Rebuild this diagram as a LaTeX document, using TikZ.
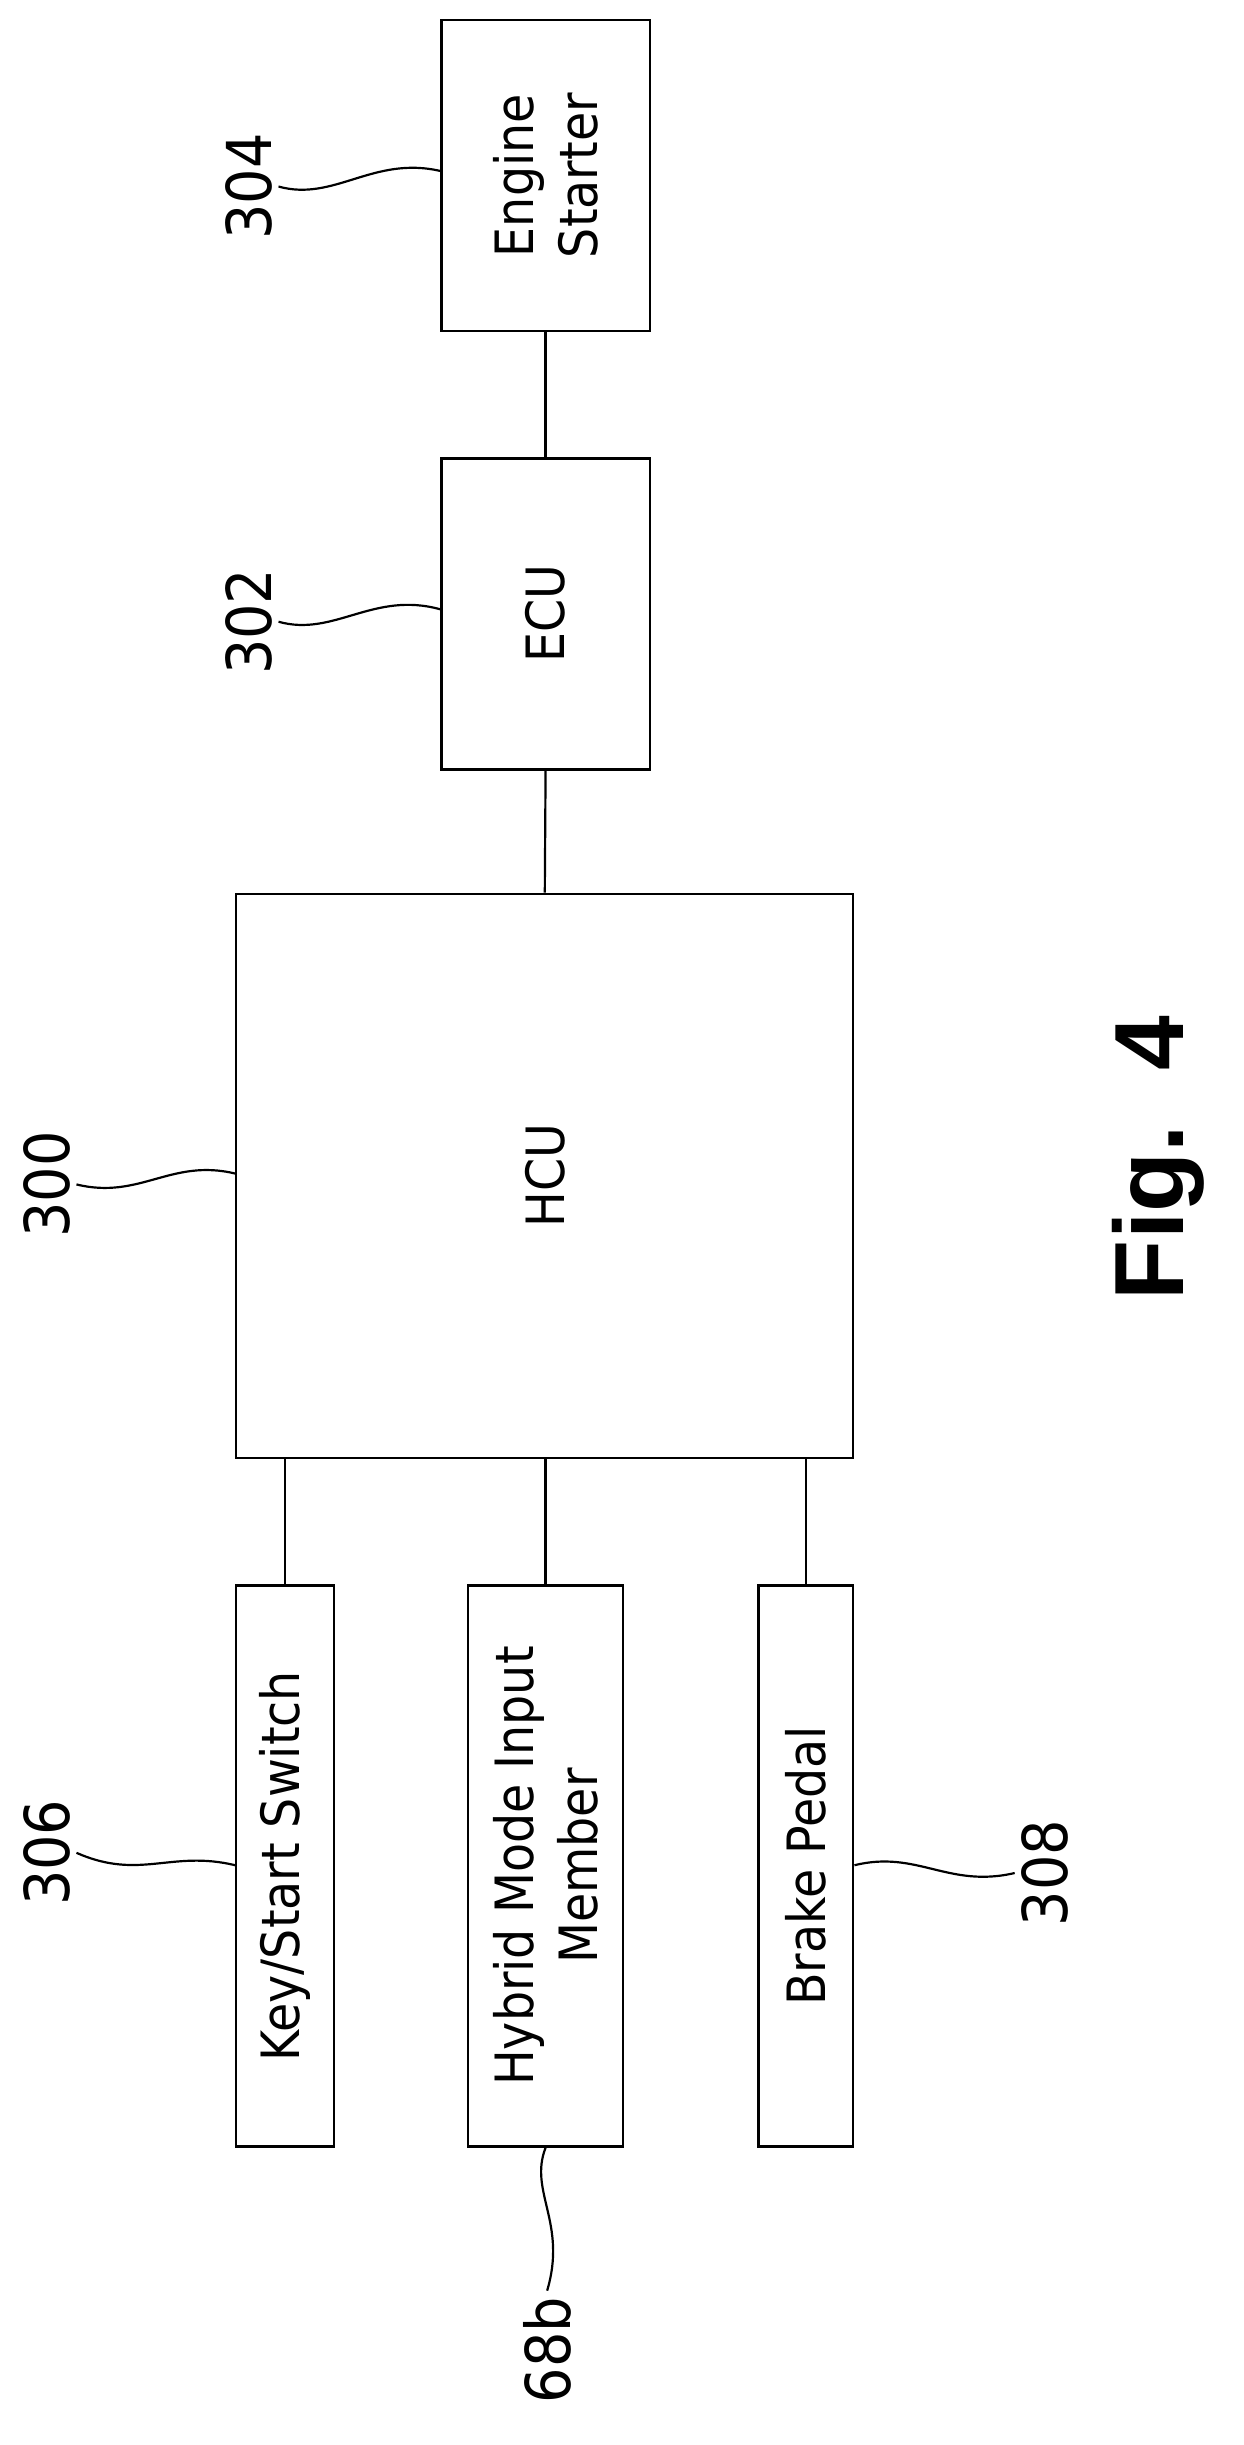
\documentclass[tikz,border=0pt]{standalone}
\usepackage{fontspec}
\setmainfont{DejaVu Sans Condensed}
\newfontfamily\figfont{Liberation Sans}
\begin{document}
\begin{tikzpicture}[x=0.3mm,y=-0.3mm,
  box/.style={draw,line width=1.2pt,inner sep=0pt},
  lbl/.style={font=\fontsize{29}{35}\selectfont,rotate=90,align=center},
  num/.style={font=\fontsize{34}{40}\selectfont,rotate=90},
  ln/.style={line width=1.2pt}]
\useasboundingbox (0,0) rectangle (800,1573);
\node[box,minimum width=134*0.3mm,minimum height=200*0.3mm] (es) at (351,113) {};
\node[lbl] at (es) {Engine\\Starter};
\node[box,minimum width=134*0.3mm,minimum height=200*0.3mm] (ecu) at (351,395) {};
\node[lbl] at (ecu) {ECU};
\node[box,minimum width=397*0.3mm,minimum height=363*0.3mm] (hcu) at (350.5,756.5) {};
\node[lbl] at (hcu) {HCU};
\node[box,minimum width=63*0.3mm,minimum height=361*0.3mm] (key) at (183.5,1200.5) {};
\node[lbl] at (key) {Key/Start Switch};
\node[box,minimum width=100*0.3mm,minimum height=361*0.3mm] (hyb) at (351,1200.5) {};
\node[lbl] at (hyb) {Hybrid Mode Input\\Member};
\node[box,minimum width=61*0.3mm,minimum height=361*0.3mm] (brk) at (518.5,1200.5) {};
\node[lbl] at (brk) {Brake Pedal};
\draw[ln] (es.south) -- (ecu.north);
\draw[ln] (ecu.south) -- (hcu.north);
\draw[ln] (hcu.south -| key.north) -- (key.north);
\draw[ln] (hcu.south -| hyb.north) -- (hyb.north);
\draw[ln] (hcu.south -| brk.north) -- (brk.north);
% labels
\node[num] (n304) at (160,120) {304};
\draw[ln] (n304.south) .. controls (215,130) and (240,100) .. (es.west |- 0,110);
\node[num] (n302) at (160,400) {302};
\draw[ln] (n302.south) .. controls (215,410) and (240,380) .. (ecu.west |- 0,392);
\node[num] (n300) at (30,762) {300};
\draw[ln] (n300.south) .. controls (90,772) and (110,745) .. (hcu.west |- 0,755);
\node[num] (n306) at (30,1192) {306};
\draw[ln] (n306.south) .. controls (90,1210) and (110,1190) .. (key.west |- 0,1200);
\node[num] (n308) at (672,1205) {308};
\draw[ln] (brk.east |- 0,1200) .. controls (590,1190) and (610,1215) .. (n308.north);
\node[num] (n68) at (352,1512) {68b};
\draw[ln] (hyb.south) .. controls (340,1410) and (365,1430) .. (n68.east);
\node[rotate=90,font=\figfont\bfseries\fontsize{54}{62}\selectfont] at (745,745) {Fig.\ \ 4};
\end{tikzpicture}
\end{document}
